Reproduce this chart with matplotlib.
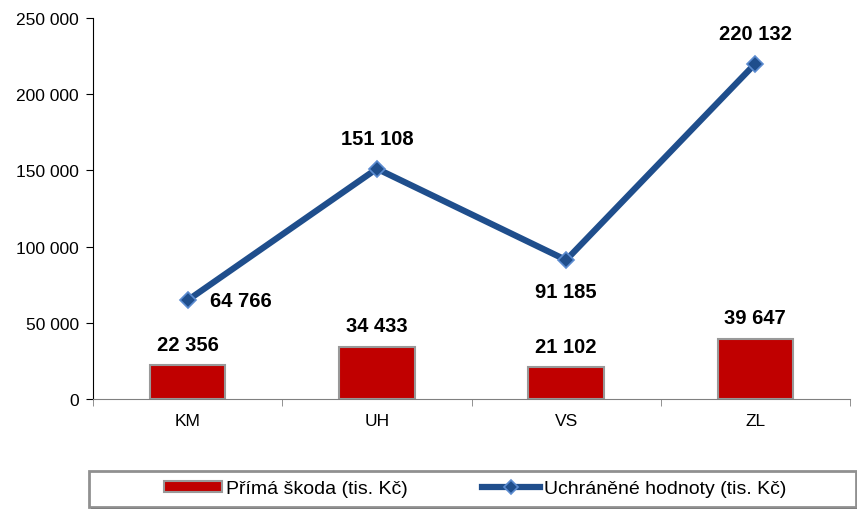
import matplotlib.pyplot as plt
import matplotlib.ticker as mticker
from matplotlib.patches import Rectangle

plt.rcParams['font.family'] = ['Liberation Sans', 'DejaVu Sans']

kategorie = ['KM', 'UH', 'VS', 'ZL']
prima_skoda = [22356, 34433, 21102, 39647]
uchranene = [64766, 151108, 91185, 220132]


def fmt(v):
    return f'{v:,}'.replace(',', ' ')


W, H = 857, 510
fig = plt.figure(figsize=(W / 100, H / 100), dpi=100)
ax = fig.add_axes([93 / W, 1 - 400 / H, 757 / W, 381 / H])

x = list(range(len(kategorie)))
sloupce = ax.bar(x, prima_skoda, width=0.4, color='#C00000', edgecolor='#999999',
                 linewidth=1.5, label='Přímá škoda (tis. Kč)', zorder=2)
cara, = ax.plot(x, uchranene, color='#1F4E8C', linewidth=4.5, marker='D', markersize=8.5,
                markerfacecolor='#1F4E8C', markeredgecolor='#5B8BD0', markeredgewidth=1.2,
                label='Uchráněné hodnoty (tis. Kč)', zorder=3)

# popisky sloupců
for xi, v in zip(x, prima_skoda):
    ax.annotate(fmt(v), (xi, v), xytext=(0, 8), textcoords='offset points',
                ha='center', va='bottom', fontsize=14.5, fontweight='bold')

# popisky čáry
posuny = [(16, 0, 'left', 'center'), (0, 15, 'center', 'bottom'),
          (0, -16, 'center', 'top'), (0, 15, 'center', 'bottom')]
for xi, v, (dx, dy, ha, va) in zip(x, uchranene, posuny):
    ax.annotate(fmt(v), (xi, v), xytext=(dx, dy), textcoords='offset points',
                ha=ha, va=va, fontsize=14.5, fontweight='bold')

ax.set_xlim(-0.5, 3.5)
ax.set_ylim(0, 250000)
ax.set_yticks(range(0, 250001, 50000))
ax.yaxis.set_major_formatter(mticker.FuncFormatter(lambda v, p: fmt(int(v))))
ax.set_xticks(x)
ax.set_xticklabels(kategorie)
ax.set_xticks([-0.5, 0.5, 1.5, 2.5, 3.5], minor=True)
ax.tick_params(axis='x', which='major', length=0, pad=10, labelsize=12.5)
ax.tick_params(axis='x', which='minor', length=5, color='#808080')
ax.tick_params(axis='y', length=5, labelsize=12.5, pad=5)

for s in ['top', 'right']:
    ax.spines[s].set_visible(False)
ax.spines['bottom'].set_color('#808080')
ax.spines['left'].set_color('black')

# rámeček legendy se stínem
fig.patches.append(Rectangle((91 / W, 0 / H), 767 / W, 36 / H, transform=fig.transFigure,
                             facecolor='black', edgecolor='none', zorder=0))
fig.patches.append(Rectangle((89 / W, 2 / H), 767 / W, 36 / H, transform=fig.transFigure,
                             facecolor='white', edgecolor='#909090', linewidth=2, zorder=1))

fig.legend(handles=[sloupce, cara], loc='center', bbox_to_anchor=(475 / W, 1 - 490 / H),
           ncol=2, fontsize=14, frameon=False, handlelength=3.0, handleheight=0.5,
           handletextpad=0.2, columnspacing=3.8, markerscale=0.8)

fig.savefig('out.png', dpi=100)
